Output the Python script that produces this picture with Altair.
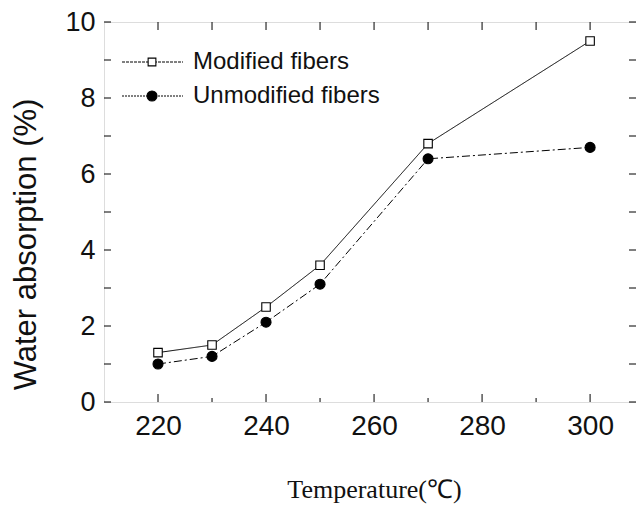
import altair as alt
import pandas as pd

temps = [220, 230, 240, 250, 270, 300]
modified = [1.3, 1.5, 2.5, 3.6, 6.8, 9.5]
unmodified = [1.0, 1.2, 2.1, 3.1, 6.4, 6.7]
series_names = ["Modified fibers", "Unmodified fibers"]
x_label_values = [220, 240, 260, 280, 300]
x_tick_values = [220, 230, 240, 250, 260, 270, 280, 290, 300]
x_major_ticks = [220, 240, 260, 280, 300]
y_label_values = [0, 2, 4, 6, 8, 10]
y_tick_values = [0, 1, 2, 3, 4, 5, 6, 7, 8, 9, 10]

W, H = 532, 380
SANS = "Liberation Sans, Arial, sans-serif"
SERIF = "Liberation Serif, Times New Roman, serif"

df = pd.DataFrame({
    "temp": temps * 2,
    "wa": modified + unmodified,
    "series": [series_names[0]] * len(temps) + [series_names[1]] * len(temps),
})

xs = alt.Scale(domain=[210, 308.5], nice=False, zero=False)
ys = alt.Scale(domain=[0, 10], nice=False)

xaxis = alt.Axis(values=x_label_values, ticks=False, domain=False, grid=False,
                 labelFontSize=28, labelFont=SANS, labelColor="#111", labelPadding=10,
                 title="Temperature(℃)", titleFont=SERIF, titleFontSize=26,
                 titleFontWeight="normal", titleColor="#111",
                 titleX=270, titleY=95, titleBaseline="alphabetic")
yaxis = alt.Axis(values=y_label_values, ticks=False, domain=False, grid=False,
                 labelFontSize=27, labelFont=SANS, labelColor="#111", labelPadding=9,
                 title="Water absorption (%)", titleFont=SANS, titleFontSize=31,
                 titleFontWeight="normal", titleColor="#111",
                 titleX=-69, titleY=222, titleAngle=270, titleBaseline="alphabetic",
                 titleAlign="center")

base = alt.Chart(df)

lines = base.mark_line(color="black", strokeWidth=1).encode(
    x=alt.X("temp:Q", scale=xs, axis=xaxis),
    y=alt.Y("wa:Q", scale=ys, axis=yaxis),
    strokeDash=alt.StrokeDash("series:N", scale=alt.Scale(domain=series_names, range=[[1, 0], [8, 3, 2, 3]]), legend=None),
    detail="series:N",
)

points = base.mark_point(filled=True, stroke="black", strokeWidth=1.1, opacity=1).encode(
    x=alt.X("temp:Q", scale=xs),
    y=alt.Y("wa:Q", scale=ys),
    shape=alt.Shape("series:N", scale=alt.Scale(domain=series_names, range=["square", "circle"]), legend=None),
    fill=alt.Fill("series:N", scale=alt.Scale(domain=series_names, range=["white", "black"]), legend=None),
    size=alt.Size("series:N", scale=alt.Scale(domain=series_names, range=[72, 100]), legend=None),
)

ydf = pd.DataFrame({"v": y_tick_values})
xdf = pd.DataFrame({"v": x_tick_values, "major": [v in x_major_ticks for v in x_tick_values]})

yt_left = alt.Chart(ydf).mark_rule(color="black", strokeWidth=1).encode(
    y=alt.Y("v:Q", scale=ys), x=alt.value(0), x2=alt.value(7))
yt_right = alt.Chart(ydf).mark_rule(color="black", strokeWidth=1).encode(
    y=alt.Y("v:Q", scale=ys), x=alt.value(W - 7), x2=alt.value(W))
xt_top = alt.Chart(xdf).mark_rule(color="black", strokeWidth=1).encode(
    x=alt.X("v:Q", scale=xs), y=alt.value(0), y2=alt.value(8))
xt_bot_major = alt.Chart(xdf[xdf.major]).mark_rule(color="black", strokeWidth=1).encode(
    x=alt.X("v:Q", scale=xs), y=alt.value(H - 8), y2=alt.value(H))
xt_bot_minor = alt.Chart(xdf[~xdf.major]).mark_rule(color="black", strokeWidth=1).encode(
    x=alt.X("v:Q", scale=xs), y=alt.value(H - 4), y2=alt.value(H))


def legend_row(name, ypix, dash, shape, fill, size):
    ldf = pd.DataFrame({"label": [name]})
    b = alt.Chart(ldf)
    ln = b.mark_rule(color="black", strokeWidth=1, strokeDash=dash).encode(
        x=alt.value(18), x2=alt.value(79), y=alt.value(ypix))
    pt = b.mark_point(shape=shape, filled=True, fill=fill, stroke="black", strokeWidth=1.1,
                      size=size, opacity=1).encode(x=alt.value(48), y=alt.value(ypix))
    tx = b.mark_text(align="left", baseline="middle", fontSize=24, font=SANS, color="#111").encode(
        x=alt.value(89), y=alt.value(ypix), text="label:N")
    return [ln, pt, tx]


legend_layers = legend_row(series_names[0], 40, [3, 1], "square", "white", 60) + \
    legend_row(series_names[1], 74, [2, 1], "circle", "black", 100)

chart = alt.layer(
    lines, points, yt_left, yt_right, xt_top, xt_bot_major, xt_bot_minor, *legend_layers
).properties(
    width=W, height=H,
    autosize="none",
    padding={"left": 96, "top": 14, "right": 0, "bottom": 102},
).configure_view(stroke="black", strokeWidth=1.6).configure(background="white")

chart.save("out.html", embed_options={"renderer": "svg", "actions": False})
